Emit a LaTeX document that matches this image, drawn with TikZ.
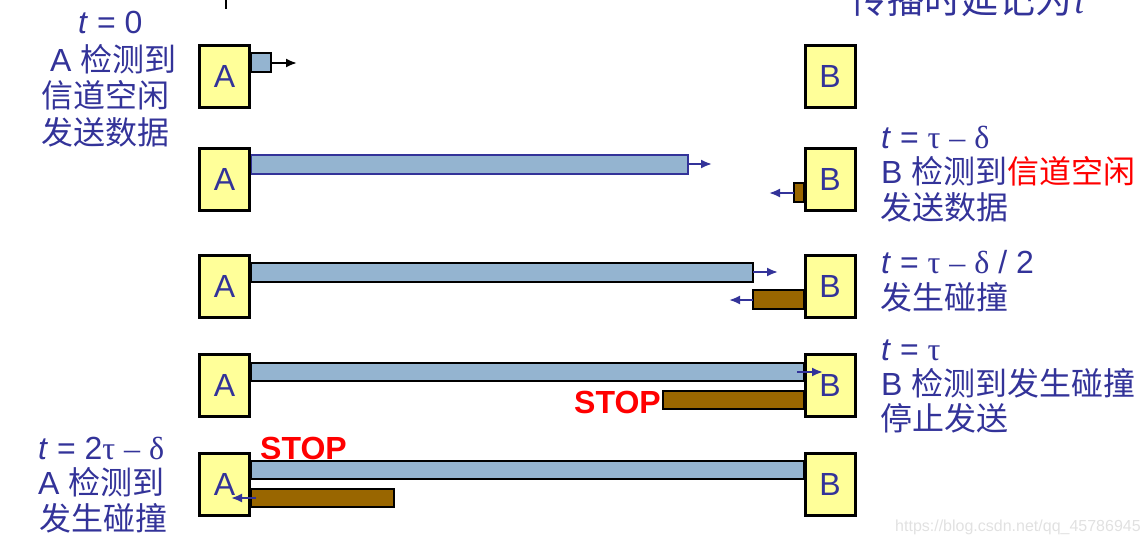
\documentclass[tikz,border=0pt]{standalone}
\usepackage{fontspec}
\setmainfont{Liberation Sans}
\newfontfamily\cjk{Noto Sans CJK SC}
\newfontfamily\grk{Liberation Serif}
\usetikzlibrary{arrows.meta}
\definecolor{ink}{RGB}{51,51,153}
\definecolor{boxfill}{RGB}{255,255,153}
\definecolor{barblue}{RGB}{148,180,208}
\definecolor{barbrown}{RGB}{153,102,0}
\definecolor{mark}{RGB}{225,225,225}
% Greek symbols and dash in a serif face
\newcommand\gtau{{\grk τ}}
\newcommand\gdel{{\grk δ}}
\newcommand\gdash{{\grk –}}
\begin{document}
\begin{tikzpicture}[x=1pt,y=-1pt,
  station/.style={draw=black,line width=3pt,fill=boxfill,minimum width=50pt,
    minimum height=62pt,inner sep=0pt,text=ink,font=\fontsize{32}{38}\selectfont},
  bluebar/.style={draw=black,line width=2.5pt,fill=barblue},
  brownbar/.style={draw=black,line width=2.5pt,fill=barbrown},
  sig/.style={draw=ink,line width=2pt,-{Latex[length=11pt,width=9pt]}},
  lbl/.style={anchor=base west,inner sep=0pt,text=ink,font=\fontsize{32}{38}\selectfont},
  stopword/.style={anchor=base west,inner sep=0pt,text=red,font=\fontsize{32}{36}\bfseries\selectfont}]
\clip (0,0) rectangle (1148,544);

% title at the top edge
\draw[black,line width=2pt] (226,0) -- (226,9);
\node[anchor=base west,inner sep=0pt,text=ink,font=\fontsize{37}{42}\selectfont] (title) at (850,13)
  {{\cjk 传播时延记为}{\grk\itshape τ}};

% ---- bars (signals on the bus) ----
% row 1
\draw[bluebar] (251,53) rectangle (271,72);
% row 2
\draw[bluebar,draw=ink] (251,155) rectangle (688,174);
\draw[brownbar] (794,183) rectangle (804,202);
% row 3
\draw[bluebar] (251,263) rectangle (753,282);
\draw[brownbar] (753,290) rectangle (804,309);
% row 4
\draw[bluebar] (251,363) rectangle (804,381);
\draw[brownbar] (663,391) rectangle (804,409);
% row 5
\draw[bluebar] (251,461) rectangle (804,479);
\draw[brownbar] (251,489) rectangle (394,507);

% ---- stations ----
\node[station] (A1) at (224.5,76.5) {A};
\node[station] (B1) at (830,76.5) {B};
\node[station] (A2) at (224.5,179.5) {A};
\node[station] (B2) at (830,179.5) {B};
\node[station] (A3) at (224.5,286.5) {A};
\node[station] (B3) at (830,286.5) {B};
\node[station] (A4) at (224.5,385.5) {A};
\node[station] (B4) at (830,385.5) {B};
\node[station] (A5) at (224.5,484) {A};
\node[station] (B5) at (830,484) {B};

% ---- propagation arrows ----
\coordinate (p1s) at (271,63);  \coordinate (p1e) at (297,63);
\coordinate (p2s) at (688,164); \coordinate (p2e) at (712,164);
\coordinate (q2s) at (794,193); \coordinate (q2e) at (769,193);
\coordinate (p3s) at (753,272); \coordinate (p3e) at (778,272);
\coordinate (q3s) at (753,300); \coordinate (q3e) at (729,300);
\coordinate (p4s) at (797,372); \coordinate (p4e) at (823,372);
\coordinate (q5s) at (256,498); \coordinate (q5e) at (231,498);
\draw[sig,draw=black] (p1s) -- (p1e);
\draw[sig] (p2s) -- (p2e);
\draw[sig] (q2s) -- (q2e);
\draw[sig] (p3s) -- (p3e);
\draw[sig] (q3s) -- (q3e);
\draw[sig] (p4s) -- (p4e);
\draw[sig] (q5s) -- (q5e);

% ---- STOP marks ----
\node[stopword] (stop4) at (574,413) {STOP};
\node[stopword] (stop5) at (260,459) {STOP};

% ---- left notes ----
\node[lbl] (l1a) at (78,33) {\textit{t} = 0};
\node[lbl] (l1b) at (50,71) {A {\cjk 检测到}};
\node[lbl] (l1c) at (41,107) {{\cjk 信道空闲}};
\node[lbl] (l1d) at (41,144) {{\cjk 发送数据}};

\node[lbl] (l5a) at (38,459) {\textit{t} = 2\gtau\ \gdash\ \gdel};
\node[lbl] (l5b) at (38,494) {A {\cjk 检测到}};
\node[lbl] (l5c) at (39,530) {{\cjk 发生碰撞}};

% ---- right notes ----
\node[lbl] (r2a) at (881,148) {\textit{t} = \gtau\ \gdash\ \gdel};
\node[lbl] (r2b) at (881,183) {B {\cjk 检测到}{\cjk\color{red}信道空闲}};
\node[lbl] (r2c) at (880,219) {{\cjk 发送数据}};

\node[lbl] (r3a) at (881,273) {\textit{t} = \gtau\ \gdash\ \gdel\ / 2};
\node[lbl] (r3b) at (880,309) {{\cjk 发生碰撞}};

\node[lbl] (r4a) at (881,360) {\textit{t} = \gtau};
\node[lbl] (r4b) at (881,395) {B {\cjk 检测到发生碰撞}};
\node[lbl] (r4c) at (880,430) {{\cjk 停止发送}};

% ---- watermark ----
\node[anchor=base west,inner sep=0pt,text=mark,font=\fontsize{16}{18}\selectfont] (wm) at (895,531)
  {https://blog.csdn.net/qq\_45786945};
\end{tikzpicture}
\end{document}
